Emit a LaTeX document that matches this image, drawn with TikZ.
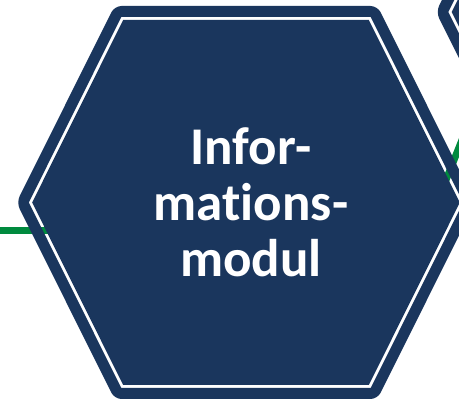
\documentclass[tikz,border=0pt]{standalone}
\usepackage{fontspec}
\newfontfamily\hexfont{Carlito}[Ligatures=NoCommon]
\usetikzlibrary{positioning}
\definecolor{hexblue}{RGB}{26,54,93}
\definecolor{linkgreen}{RGB}{0,138,62}

% hexagon outline: centre x, centre y, half width, half top, half height
\newcommand\hexpath[5]{({#1-#3},#2) -- ({#1-#4},{#2-#5}) -- ({#1+#4},{#2-#5})
  -- ({#1+#3},#2) -- ({#1+#4},{#2+#5}) -- ({#1-#4},{#2+#5}) -- cycle}

\tikzset{
  hexring/.style={fill=hexblue, even odd rule},
  hexcore/.style={fill=hexblue},
  link/.style={draw=linkgreen, line width=7pt},
  hexlabel/.style={text=white, align=center,
    font=\hexfont\bfseries\fontsize{53}{56}\selectfont}
}

\begin{document}
\begin{tikzpicture}[x=1pt, y=-1pt]

  \useasboundingbox (0,0) rectangle (459,401);
  \clip (0,0) rectangle (459,401);

  \coordinate (hexmain) at (246,202.5);
  \coordinate (hexnext) at (665.5,12);
  \coordinate (lin) at (0,231);
  \coordinate (rin) at (430,220);
  \coordinate (rout) at (480,95);

  % green links behind the hexagons
  \draw[link] (lin) -- (lin -| hexmain);
  \draw[link] (rin) -- (rout);

  % main hexagon: ring, gap, core
  \fill[hexring] [rounded corners=7pt] \hexpath{246}{202.5}{229.5}{131.5}{196.5}
    [sharp corners] \hexpath{246}{202.5}{217.2}{124.7}{185.5};
  \fill[hexcore] \hexpath{246}{202.5}{213.85}{122.8}{182.5};

  % next hexagon, mostly off the page
  \fill[hexring] [rounded corners=7pt] \hexpath{665.5}{12}{229.5}{131.5}{196.5}
    [sharp corners] \hexpath{665.5}{12}{217.2}{124.7}{185.5};
  \fill[hexcore] \hexpath{665.5}{12}{213.85}{122.8}{182.5};

  \node[hexlabel] (info) at (251,202) {Infor-\\mations-\\modul};

\end{tikzpicture}
\end{document}
